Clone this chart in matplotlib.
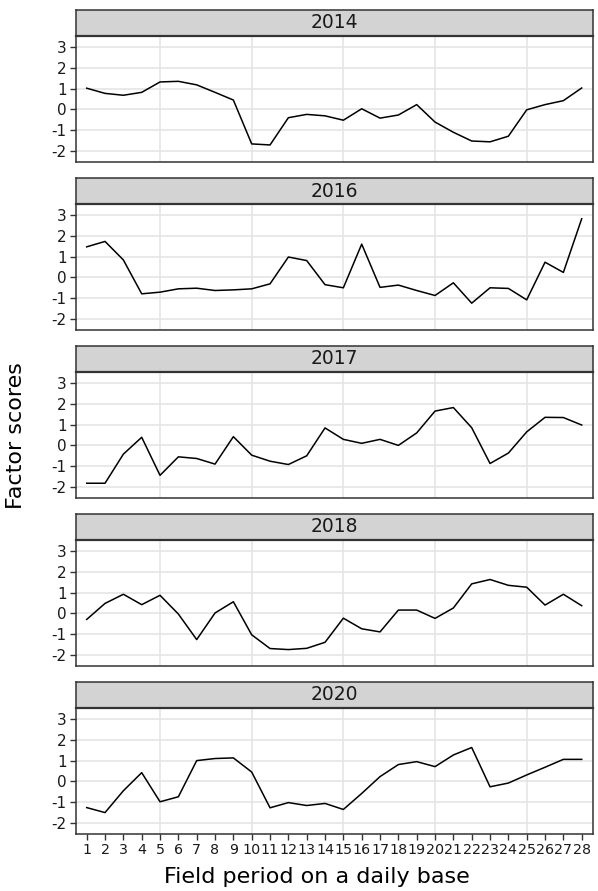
"""
Faceted line chart: daily factor scores over the field period, one panel per year.
Saved as out.png (598x891).
"""

import matplotlib
matplotlib.use("Agg")
import matplotlib.pyplot as plt

W, H = 598, 891
DPI = 100

DARK = "#333333"
GRID = "#e3e3e3"
STRIP_FILL = "#d3d3d3"

days = list(range(1, 29))
years = ["2014", "2016", "2017", "2018", "2020"]

scores_2014 = [1.02, 0.77, 0.68, 0.82, 1.32, 1.35, 1.18, 0.82, 0.45, -1.66,
               -1.71, -0.40, -0.24, -0.31, -0.52, 0.03, -0.42, -0.27, 0.23, -0.61,
               -1.10, -1.52, -1.56, -1.29, -0.02, 0.23, 0.42, 1.03]
scores_2016 = [1.47, 1.73, 0.84, -0.79, -0.71, -0.55, -0.52, -0.63, -0.60, -0.55,
               -0.31, 0.98, 0.81, -0.35, -0.50, 1.60, -0.48, -0.37, -0.63, -0.87,
               -0.26, -1.24, -0.50, -0.53, -1.08, 0.73, 0.24, 2.82]
scores_2017 = [-1.82, -1.82, -0.42, 0.39, -1.44, -0.55, -0.63, -0.90, 0.42, -0.47,
               -0.76, -0.92, -0.50, 0.84, 0.29, 0.10, 0.29, 0.00, 0.60, 1.65,
               1.82, 0.85, -0.87, -0.37, 0.65, 1.35, 1.34, 0.98]
scores_2018 = [-0.29, 0.48, 0.92, 0.42, 0.87, -0.03, -1.26, 0.02, 0.56, -1.03,
               -1.69, -1.74, -1.68, -1.39, -0.23, -0.74, -0.89, 0.16, 0.16, -0.24,
               0.26, 1.42, 1.63, 1.35, 1.26, 0.40, 0.92, 0.37]
scores_2020 = [-1.26, -1.50, -0.45, 0.42, -0.98, -0.74, 1.00, 1.10, 1.13, 0.45,
               -1.27, -1.02, -1.16, -1.06, -1.35, -0.58, 0.23, 0.81, 0.95, 0.71,
               1.27, 1.63, -0.26, -0.08, 0.31, 0.68, 1.06, 1.06]

series = [scores_2014, scores_2016, scores_2017, scores_2018, scores_2020]

y_ticks = [-2, -1, 0, 1, 2, 3]
y_labels = ["-2", "-1", "0", "1", "2", "3"]
x_grid = [5, 10, 15, 20, 25]


def px_rect(left, top, right, bottom):
    """Pixel box (from top-left) -> figure fraction [l, b, w, h]."""
    return [left / W, 1 - bottom / H, (right - left) / W, (bottom - top) / H]


fig = plt.figure(figsize=(W / DPI, H / DPI), dpi=DPI, facecolor="white")

LEFT, RIGHT = 75.7, 592.7
strip_tops = [10, 178, 346, 514, 682]
STRIP_H = 26
PANEL_H = 126

for i, (year, vals) in enumerate(zip(years, series)):
    top = strip_tops[i]

    # strip
    sax = fig.add_axes(px_rect(LEFT, top, RIGHT, top + STRIP_H))
    sax.set_facecolor(STRIP_FILL)
    sax.set_xticks([]); sax.set_yticks([])
    for sp in sax.spines.values():
        sp.set_color(DARK); sp.set_linewidth(1.1)
    sax.text(0.5, 0.5, year, transform=sax.transAxes, ha="center", va="center",
             fontsize=13.5, color="#1a1a1a")

    # panel
    ax = fig.add_axes(px_rect(LEFT, top + STRIP_H, RIGHT, top + STRIP_H + PANEL_H))
    ax.plot(days, vals, color="black", lw=1.1, zorder=3)
    ax.set_xlim(0.4, 28.6)
    ax.set_ylim(-2.53, 3.53)
    for g in y_ticks:
        ax.axhline(g, color=GRID, lw=1.1, zorder=1)
    for g in x_grid:
        ax.axvline(g, color=GRID, lw=1.1, zorder=1)
    ax.set_yticks(y_ticks)
    ax.set_yticklabels(y_labels)
    ax.tick_params(axis="y", length=4.5, width=1, color=DARK, labelsize=11,
                   labelcolor="#1a1a1a", pad=2)
    for sp in ax.spines.values():
        sp.set_color(DARK); sp.set_linewidth(1.1)
    ax.spines["top"].set_linewidth(1.6)

    if i == len(years) - 1:
        ax.set_xticks(days)
        ax.set_xticklabels([str(d) for d in days])
        ax.tick_params(axis="x", length=4.5, width=1, color=DARK, labelsize=10.3,
                       labelcolor="#1a1a1a", pad=2)
    else:
        ax.set_xticks([])

fig.text(317 / W, 1 - 877 / H, "Field period on a daily base", ha="center",
         va="center", fontsize=16, color="black")
fig.text(16 / W, 1 - 436 / H, "Factor scores", rotation=90, ha="center",
         va="center", fontsize=16, color="black")

fig.savefig("out.png", dpi=DPI, facecolor="white")
